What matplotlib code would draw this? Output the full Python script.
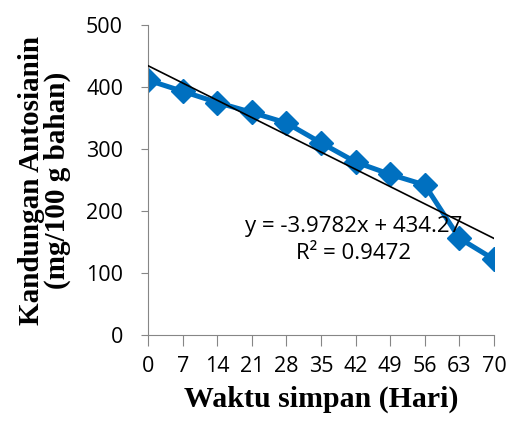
import matplotlib.pyplot as plt

# data
days = [0, 7, 14, 21, 28, 35, 42, 49, 56, 63, 70]
antosianin = [411, 393, 375, 359, 342, 310, 279, 259, 242, 156, 122]
slope = -3.9782
intercept = 434.27
r2 = 0.9472

fig = plt.figure(figsize=(5.09, 4.26), dpi=100)
ax = fig.add_axes([0.291, 0.2136, 0.6795, 0.7277])

# trend line
trend = [slope * d + intercept for d in days]
ax.plot([days[0], days[-1]], [trend[0], trend[-1]], color='black', lw=1.2, zorder=3)

ax.plot(days, antosianin, color='#0070C0', lw=3.6, marker='D', markersize=12,
        zorder=2)

ax.set_xlim(0, 70)
ax.set_ylim(0, 500)
ax.set_xticks(days)
ax.set_yticks([0, 100, 200, 300, 400, 500])

for s in ['top', 'right']:
    ax.spines[s].set_visible(False)
for s in ['left', 'bottom']:
    ax.spines[s].set_color('#868686')
ax.tick_params(axis='x', direction='out', length=8, color='#868686',
               labelsize=15.5, pad=7)
ax.tick_params(axis='y', direction='out', length=5, color='#868686',
               labelsize=15.5, pad=13)
for lab in ax.get_xticklabels() + ax.get_yticklabels():
    lab.set_fontfamily('Open Sans')

ax.set_xlabel('Waktu simpan (Hari)', fontfamily='Liberation Serif',
              fontweight='bold', fontsize=21.5, labelpad=6)
ax.set_ylabel('Kandungan Antosianin\n(mg/100 g bahan)', fontfamily='Liberation Serif',
              fontweight='bold', fontsize=21, labelpad=11, linespacing=0.95)

ax.text(41.6, 153, f'y = {slope}x + {intercept}\nR² = {r2}', ha='center', va='center',
        fontfamily='Open Sans', fontsize=16, linespacing=1.4)

fig.savefig('out.png', dpi=100)
